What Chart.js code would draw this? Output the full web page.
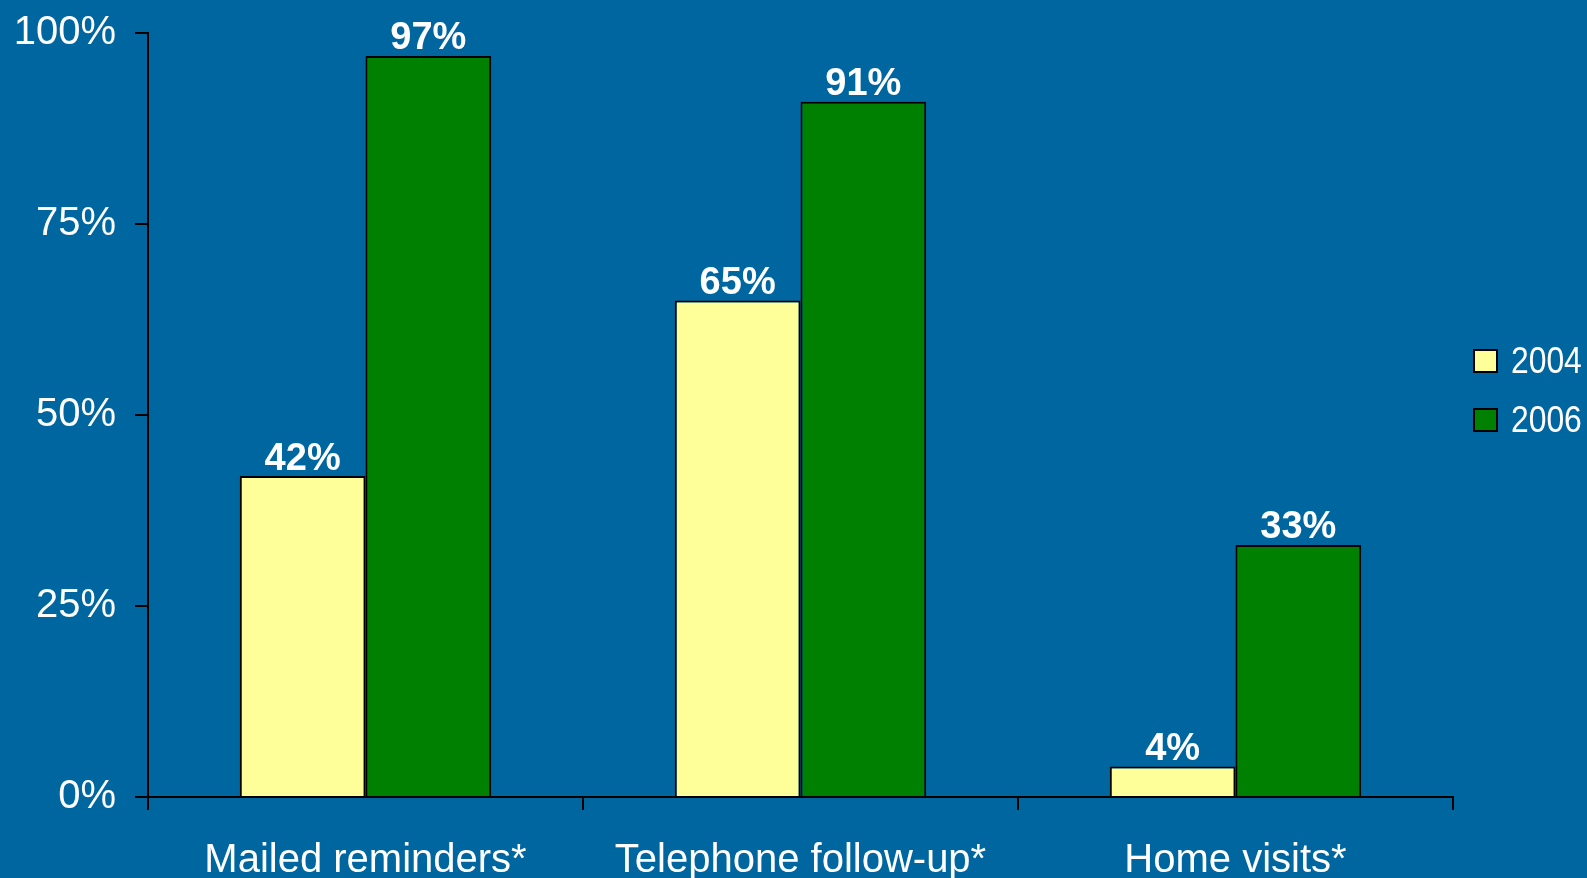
<!DOCTYPE html>
<html>
<head>
<meta charset="utf-8">
<script src="https://cdn.jsdelivr.net/npm/chart.js@4"></script>
<style>
  html, body { margin: 0; padding: 0; background: #0066a0; }
  #wrap { position: relative; width: 1587px; height: 878px; }
  canvas { display: block; }
  #legend { position: absolute; left: 1473px; top: 343px; margin: 0; padding: 0; list-style: none;
    font-family: "Liberation Sans", Arial, sans-serif; font-size: 37px; color: #fff; }
  #legend li { display: flex; align-items: center; height: 36px; margin-bottom: 23px; white-space: nowrap; }
  #legend .txt { display: inline-block; transform: scaleX(0.86); transform-origin: left center; }
  .legend-dot { display: inline-block; width: 21px; height: 20px; border: 2px solid #000; margin-right: 13px; }
</style>
</head>
<body>
<div id="wrap">
  <canvas id="barChart" width="1587" height="878"></canvas>
  <ul id="legend"></ul>
</div>
<script>
// ---------- data ----------
const categories = ["Mailed reminders*", "Telephone follow-up*", "Home visits*"];
const seriesNames = ["2004", "2006"];
const values2004 = [42, 65, 4];
const values2006 = [97, 91, 33];
const yTicks = [0, 25, 50, 75, 100];

const colors = ["#ffff99", "#008000"];

Chart.defaults.font.family = "'Liberation Sans', Arial, sans-serif";
Chart.defaults.color = "#ffffff";

// value labels above each bar
const barLabels = {
  id: "barLabels",
  afterDatasetsDraw(chart) {
    const ctx = chart.ctx;
    ctx.save();
    ctx.font = "bold 38px 'Liberation Sans', Arial, sans-serif";
    ctx.fillStyle = "#ffffff";
    ctx.textAlign = "center";
    ctx.textBaseline = "middle";
    chart.data.datasets.forEach((ds, i) => {
      chart.getDatasetMeta(i).data.forEach((bar, j) => {
        ctx.fillText(ds.data[j] + "%", bar.x, bar.y - 17);
      });
    });
    ctx.restore();
  }
};

function renderLegend(items) {
  document.getElementById("legend").innerHTML = items
    .map((item) => `<li><span class="legend-dot" style="background:${item.color}"></span><span class="txt">${item.label}</span></li>`)
    .join("");
}

new Chart(document.getElementById("barChart"), {
  type: "bar",
  data: {
    labels: categories,
    datasets: [
      { label: seriesNames[0], data: values2004, backgroundColor: colors[0], borderColor: "#000", borderWidth: 2 },
      { label: seriesNames[1], data: values2006, backgroundColor: colors[1], borderColor: "#000", borderWidth: 2 }
    ]
  },
  options: {
    responsive: false,
    animation: false,
    categoryPercentage: 0.578,
    barPercentage: 1,
    layout: { autoPadding: false, padding: { left: 0, right: 134, top: 33, bottom: 0 } },
    plugins: { legend: { display: false }, tooltip: { enabled: false } },
    scales: {
      x: {
        afterFit: (s) => { s.height = 81; s.paddingLeft = 0; s.paddingRight = 0; },
        border: { display: true, color: "#000", width: 2 },
        grid: { offset: true, drawOnChartArea: false, drawTicks: true, tickLength: 13, tickColor: "#000", lineWidth: 2 },
        ticks: { color: "#fff", font: { size: 40, lineHeight: 1 }, padding: 31, maxRotation: 0 }
      },
      y: {
        min: 0,
        max: 100,
        afterFit: (s) => { s.width = 148; s.paddingTop = 0; s.paddingBottom = 0; },
        afterBuildTicks: (axis) => { axis.ticks = yTicks.map((v) => ({ value: v })); },
        border: { display: true, color: "#000", width: 2 },
        grid: { drawOnChartArea: false, drawTicks: true, tickLength: 13, tickColor: "#000", lineWidth: 2 },
        ticks: { color: "#fff", font: { size: 40 }, padding: 19, callback: (v) => v + "%" }
      }
    }
  },
  plugins: [barLabels]
});

renderLegend(seriesNames.map((label, i) => ({ label, color: colors[i] })));
</script>
</body>
</html>
